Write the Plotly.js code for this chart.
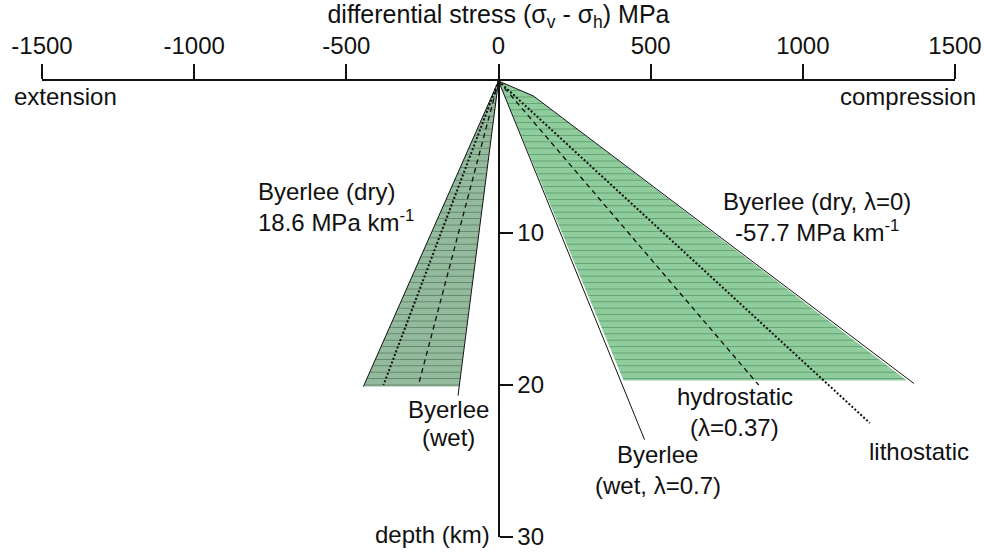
<!DOCTYPE html>
<html>
<head>
<meta charset="utf-8">
<script src="https://cdn.plot.ly/plotly-3.0.1.min.js"></script>
<style>html,body{margin:0;padding:0;background:#fff;}#chart{width:984px;height:553px;}</style>
</head>
<body>
<div id="chart"></div>
<script>
// ---- data (stress in MPa, depth in km) ----
const xTickVals = [-1500, -1000, -500, 0, 500, 1000, 1500];
const xTickText = ['-1500', '-1000', '-500', '0', '500', '1000', '1500'];
const yTickVals = [10, 20, 30];
const yTickText = ['10', '20', '30'];

// extension side (negative stress)
const extFillX = [0, -444, -130, 0];
const extFillDepth = [0, 20.1, 20.1, 0];
const extDryX = [0, -444];      const extDryDepth = [0, 20.1];
const extWetX = [0, -133];      const extWetDepth = [0, 20.7];
const extLithoX = [0, -378];    const extLithoDepth = [0, 20.0];
const extHydroX = [0, -263];    const extHydroDepth = [0, 20.0];

// compression side (positive stress)
const compFillX = [0, 115, 1342, 411, 0];
const compFillDepth = [0, 0.99, 19.7, 19.7, 0];
const compDryX = [0, 115, 1365];   const compDryDepth = [0, 0.99, 19.9];
const compWetX = [0, 480];         const compWetDepth = [0, 23.6];
const compHydroX = [0, 855];       const compHydroDepth = [0, 20.0];
const compLithoX = [0, 1220];      const compLithoDepth = [0, 22.5];

// in-plot labels: text, x (MPa), depth (km), anchor
const labelTexts = ['Byerlee (dry)', '18.6 MPa km<sup>-1</sup>', 'Byerlee (dry, λ=0)', '-57.7 MPa km<sup>-1</sup>',
  'Byerlee', '(wet)', 'hydrostatic', '(λ=0.37)', 'Byerlee', '(wet, λ=0.7)', 'lithostatic'];
const labelX = [-796, -796, 1046, 1046, -164, -164, 776, 776, 523, 523, 1382];
const labelDepth = [7.25, 9.2, 7.9, 9.85, 21.6, 23.45, 20.75, 22.8, 24.6, 26.6, 24.4];
const labelAnchor = ['left', 'left', 'center', 'center', 'center', 'center', 'center', 'center', 'center', 'center', 'center'];

// edge labels (paper fractions of the plot area)
const edgeTexts = ['extension', 'compression', 'depth (km)'];
const edgeX = [-0.033, 1.0252, 0.4929];
const edgeY = [0.965, 0.965, 0.006];
const edgeAnchor = ['left', 'right', 'right'];

// ---- drawing ----
const FONT = 'Liberation Sans, Arial, Helvetica, sans-serif';
function line(x, y, dash, width) {
  return {type: 'scatter', mode: 'lines', x: x, y: y, hoverinfo: 'skip', showlegend: false,
    line: {color: '#111', width: width, dash: dash}};
}
function fill(x, y, bg, fg) {
  return {type: 'scatter', mode: 'lines', x: x, y: y, fill: 'toself', hoverinfo: 'skip', showlegend: false,
    fillcolor: bg, line: {width: 0, color: bg},
    fillpattern: {shape: '-', size: 6.4, solidity: 0.13, fgcolor: fg, bgcolor: bg, fillmode: 'replace'}};
}
const traces = [
  fill(extFillX, extFillDepth, '#93ba9c', '#5d7f66'),
  fill(compFillX, compFillDepth, '#8fcd9d', '#5e9a6c'),
  line(extDryX, extDryDepth, 'solid', 1),
  line(extWetX, extWetDepth, 'solid', 1),
  line(extLithoX, extLithoDepth, '2px,2px', 2),
  line(extHydroX, extHydroDepth, '5px,4px', 1.3),
  line(compDryX, compDryDepth, 'solid', 1),
  line(compWetX, compWetDepth, 'solid', 1),
  line(compHydroX, compHydroDepth, '5px,4px', 1.3),
  line(compLithoX, compLithoDepth, '2px,2px', 2)
];
const txtFont = {family: FONT, size: 24, color: '#111'};
const annotations = labelTexts.map((t, i) => ({
  text: t, x: labelX[i], y: labelDepth[i], xref: 'x', yref: 'y', showarrow: false,
  xanchor: labelAnchor[i], yanchor: 'middle', align: labelAnchor[i], font: txtFont
})).concat(edgeTexts.map((t, i) => ({
  text: t, x: edgeX[i], y: edgeY[i], xref: 'paper', yref: 'paper', showarrow: false,
  xanchor: edgeAnchor[i], yanchor: 'middle', align: edgeAnchor[i], font: txtFont
})));
const layout = {
  width: 984, height: 553,
  margin: {l: 42, r: 29, t: 81, b: 16, pad: 0},
  paper_bgcolor: '#fff', plot_bgcolor: '#fff',
  showlegend: false,
  font: txtFont,
  xaxis: {
    range: [-1500, 1500], side: 'top', tickmode: 'array', tickvals: xTickVals, ticktext: xTickText,
    ticks: 'outside', ticklen: 15, tickwidth: 2, tickcolor: '#111',
    showline: true, linewidth: 2, linecolor: '#111', showgrid: false, zeroline: false,
    tickfont: txtFont,
    title: {text: 'differential stress (σ<sub>v</sub> - σ<sub>h</sub>) MPa', font: {family: FONT, size: 25, color: '#111'}, standoff: 6},
    fixedrange: true
  },
  yaxis: {
    range: [30, 0], anchor: 'free', position: 0.5, side: 'right', tickmode: 'array',
    tickvals: yTickVals, ticktext: yTickText,
    ticks: 'outside', ticklen: 13, tickwidth: 2, tickcolor: '#111',
    showline: true, linewidth: 2, linecolor: '#111', showgrid: false, zeroline: false,
    tickfont: txtFont, fixedrange: true
  },
  annotations: annotations
};
Plotly.newPlot('chart', traces, layout, {staticPlot: true, displayModeBar: false});
</script>
</body>
</html>
